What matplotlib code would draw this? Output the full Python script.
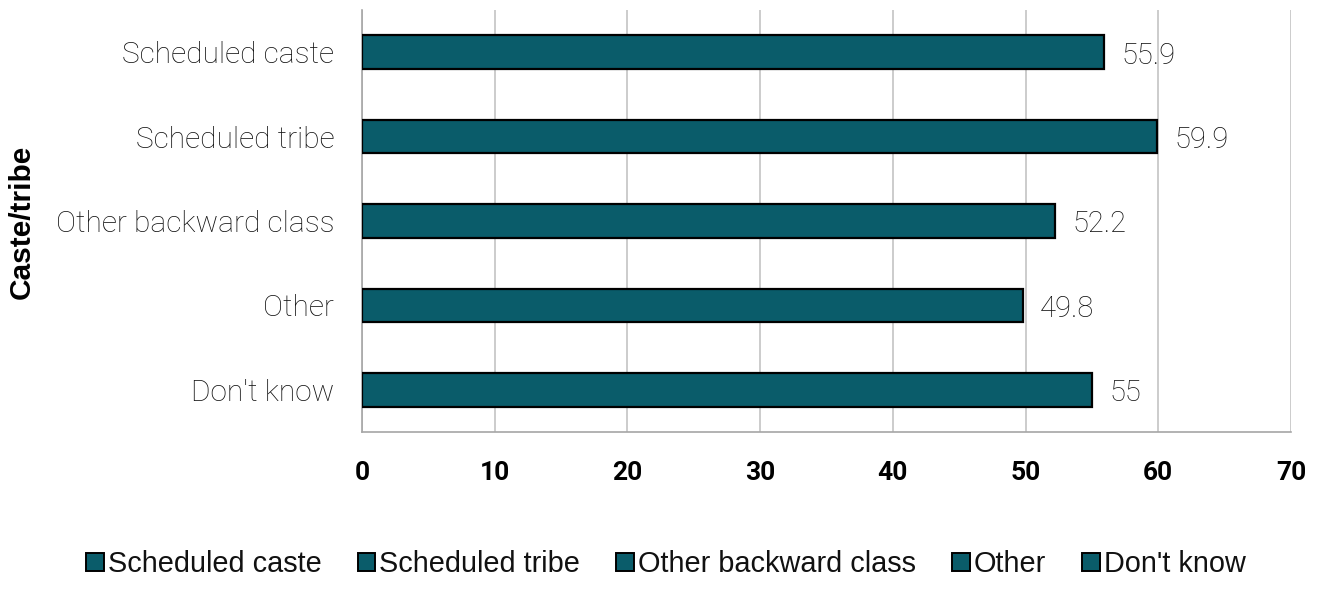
import matplotlib.pyplot as plt
from matplotlib.patches import Patch

# Data
categories = ["Scheduled caste", "Scheduled tribe", "Other backward class", "Other", "Don't know"]
values = [55.9, 59.9, 52.2, 49.8, 55]
x_ticks = [0, 10, 20, 30, 40, 50, 60, 70]

BAR_COLOR = "#0a5c6a"
GRID_COLOR = "#c4c4c4"
TEXT_COLOR = "#111111"

fig = plt.figure(figsize=(13.2, 6.01), dpi=100)
ax = fig.add_axes([362 / 1320, 1 - 432 / 601, (1291 - 362) / 1320, (432 - 10) / 601])

y_pos = list(range(len(categories)))
bars = ax.barh(y_pos, values, height=0.4, color=BAR_COLOR, edgecolor="black", linewidth=1.6, zorder=3)

ax.set_ylim(len(categories) - 0.5, -0.5)
ax.set_xlim(0, 70)
ax.set_xticks(x_ticks)
ax.set_xticklabels([str(t) for t in x_ticks], fontfamily="Roboto", fontweight="bold", fontsize=19,
                   color="black")
ax.set_yticks(y_pos)
ax.set_yticklabels(categories, fontfamily="Roboto", fontweight="light", fontsize=21.5, color=TEXT_COLOR)
ax.tick_params(axis="both", length=0)
ax.tick_params(axis="x", pad=21)
ax.tick_params(axis="y", pad=20)

ax.grid(axis="x", color=GRID_COLOR, linewidth=1.2, zorder=0)
for s in ["top", "right"]:
    ax.spines[s].set_visible(False)
for s in ["left", "bottom"]:
    ax.spines[s].set_color("#a6a6a6")
    ax.spines[s].set_linewidth(1.2)

# Value labels
for b, v in zip(bars, values):
    ax.text(b.get_width() + 1.3, b.get_y() + b.get_height() / 2 + 0.04, f"{v:g}",
            va="center", ha="left", fontfamily="Roboto", fontweight="light", fontsize=21,
            color=TEXT_COLOR)

fig.text(22 / 1320, 1 - 222 / 601, "Caste/tribe", rotation=90, va="center", ha="center",
         fontfamily="Liberation Sans", fontweight="bold", fontsize=21.5)

handles = [Patch(facecolor=BAR_COLOR, edgecolor="black", linewidth=1.4, label=c) for c in categories]
fig.legend(handles=handles, loc="center", bbox_to_anchor=(666 / 1320, 1 - 564 / 601), ncol=5,
           frameon=False, prop={"family": "Liberation Sans", "size": 20.8},
           labelcolor=TEXT_COLOR,
           handlelength=0.6, handleheight=0.6, handletextpad=0.15, columnspacing=1.25)

fig.savefig("out.png", dpi=100)
